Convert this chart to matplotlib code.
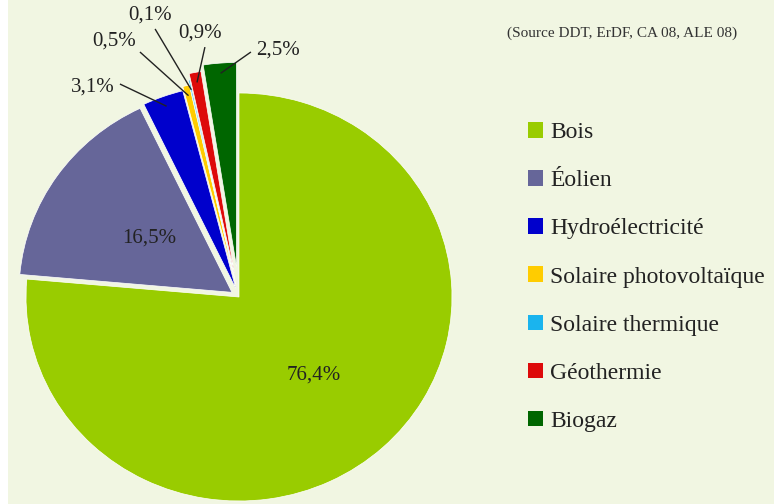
import numpy as np
import matplotlib
matplotlib.use("Agg")
import matplotlib.pyplot as plt
from matplotlib.patches import Rectangle

# Production d'énergie renouvelable (part en %)
categories = ["Bois", "Éolien", "Hydroélectricité", "Solaire photovoltaïque",
              "Solaire thermique", "Géothermie", "Biogaz"]
values = [76.4, 16.5, 3.1, 0.5, 0.1, 0.9, 2.5]
labels = ["76,4%", "16,5%", "3,1%", "0,5%", "0,1%", "0,9%", "2,5%"]
colors = ["#99cc00", "#666699", "#0000cc", "#ffcc00", "#1ab4ee", "#dd0a0a", "#006600"]
explode = [0.0, 0.04, 0.045, 0.065, 0.09, 0.12, 0.15]

# étiquettes extérieures (position du texte, départ du trait)
outside_text = {2: (-0.685, 1.029), 3: (-0.587, 1.255), 4: (-0.418, 1.382),
                5: (-0.183, 1.294), 6: (0.183, 1.211)}
outside_line = {2: (-0.559, 1.044), 3: (-0.465, 1.201), 4: (-0.394, 1.314),
                5: (-0.160, 1.225), 6: (0.056, 1.201)}

plt.rcParams["font.family"] = ["Liberation Serif", "DejaVu Serif"]
text_col = "#222222"

fig = plt.figure(figsize=(7.74, 5.04), dpi=100)
fig.patch.set_facecolor("white")
fig.patches.append(Rectangle((8 / 774, 0), 1, 1, transform=fig.transFigure,
                             facecolor="#f1f6e2", edgecolor="none", zorder=-10))

ax = fig.add_axes([0, 0, 478 / 774, 1])
ax.set_facecolor("none")
wedges, _ = ax.pie(values, colors=colors, explode=explode, startangle=90,
                   counterclock=False,
                   wedgeprops=dict(edgecolor="white", linewidth=0.5))
ax.set_aspect("auto")
ax.set_xlim(-239 / 213, 239 / 213)
ax.set_ylim(-207 / 204, 297 / 204)
ax.axis("off")

for i, w in enumerate(wedges):
    mid = np.deg2rad((w.theta1 + w.theta2) / 2)
    cx, cy = w.center
    if i in outside_text:
        ex, ey = cx + 0.95 * np.cos(mid), cy + 0.95 * np.sin(mid)
        sx, sy = outside_line[i]
        ax.plot([sx, ex], [sy, ey], color="#222222", lw=1.0, solid_capstyle="butt")
        tx, ty = outside_text[i]
        ax.text(tx, ty, labels[i], ha="center", va="center", fontsize=15,
                color=text_col)
    else:
        r = 0.52 if i == 0 else 0.47
        ax.text(cx + r * np.cos(mid), cy + r * np.sin(mid), labels[i],
                ha="center", va="center", fontsize=15, color=text_col)

leg = fig.legend(wedges, categories, loc="center left",
                 bbox_to_anchor=(528 / 774, 1 - 277 / 504), frameon=False,
                 fontsize=17, handlelength=0.65, handleheight=0.65,
                 handletextpad=0.3, labelspacing=1.14, borderpad=0,
                 borderaxespad=0)
for h in leg.legend_handles:
    h.set_edgecolor("none")
for t in leg.get_texts():
    t.set_color(text_col)

fig.text(622 / 774, 1 - 33 / 504, "(Source DDT, ErDF, CA 08, ALE 08)",
         ha="center", va="center", fontsize=11, color="#333333")

fig.savefig("out.png", dpi=100)
